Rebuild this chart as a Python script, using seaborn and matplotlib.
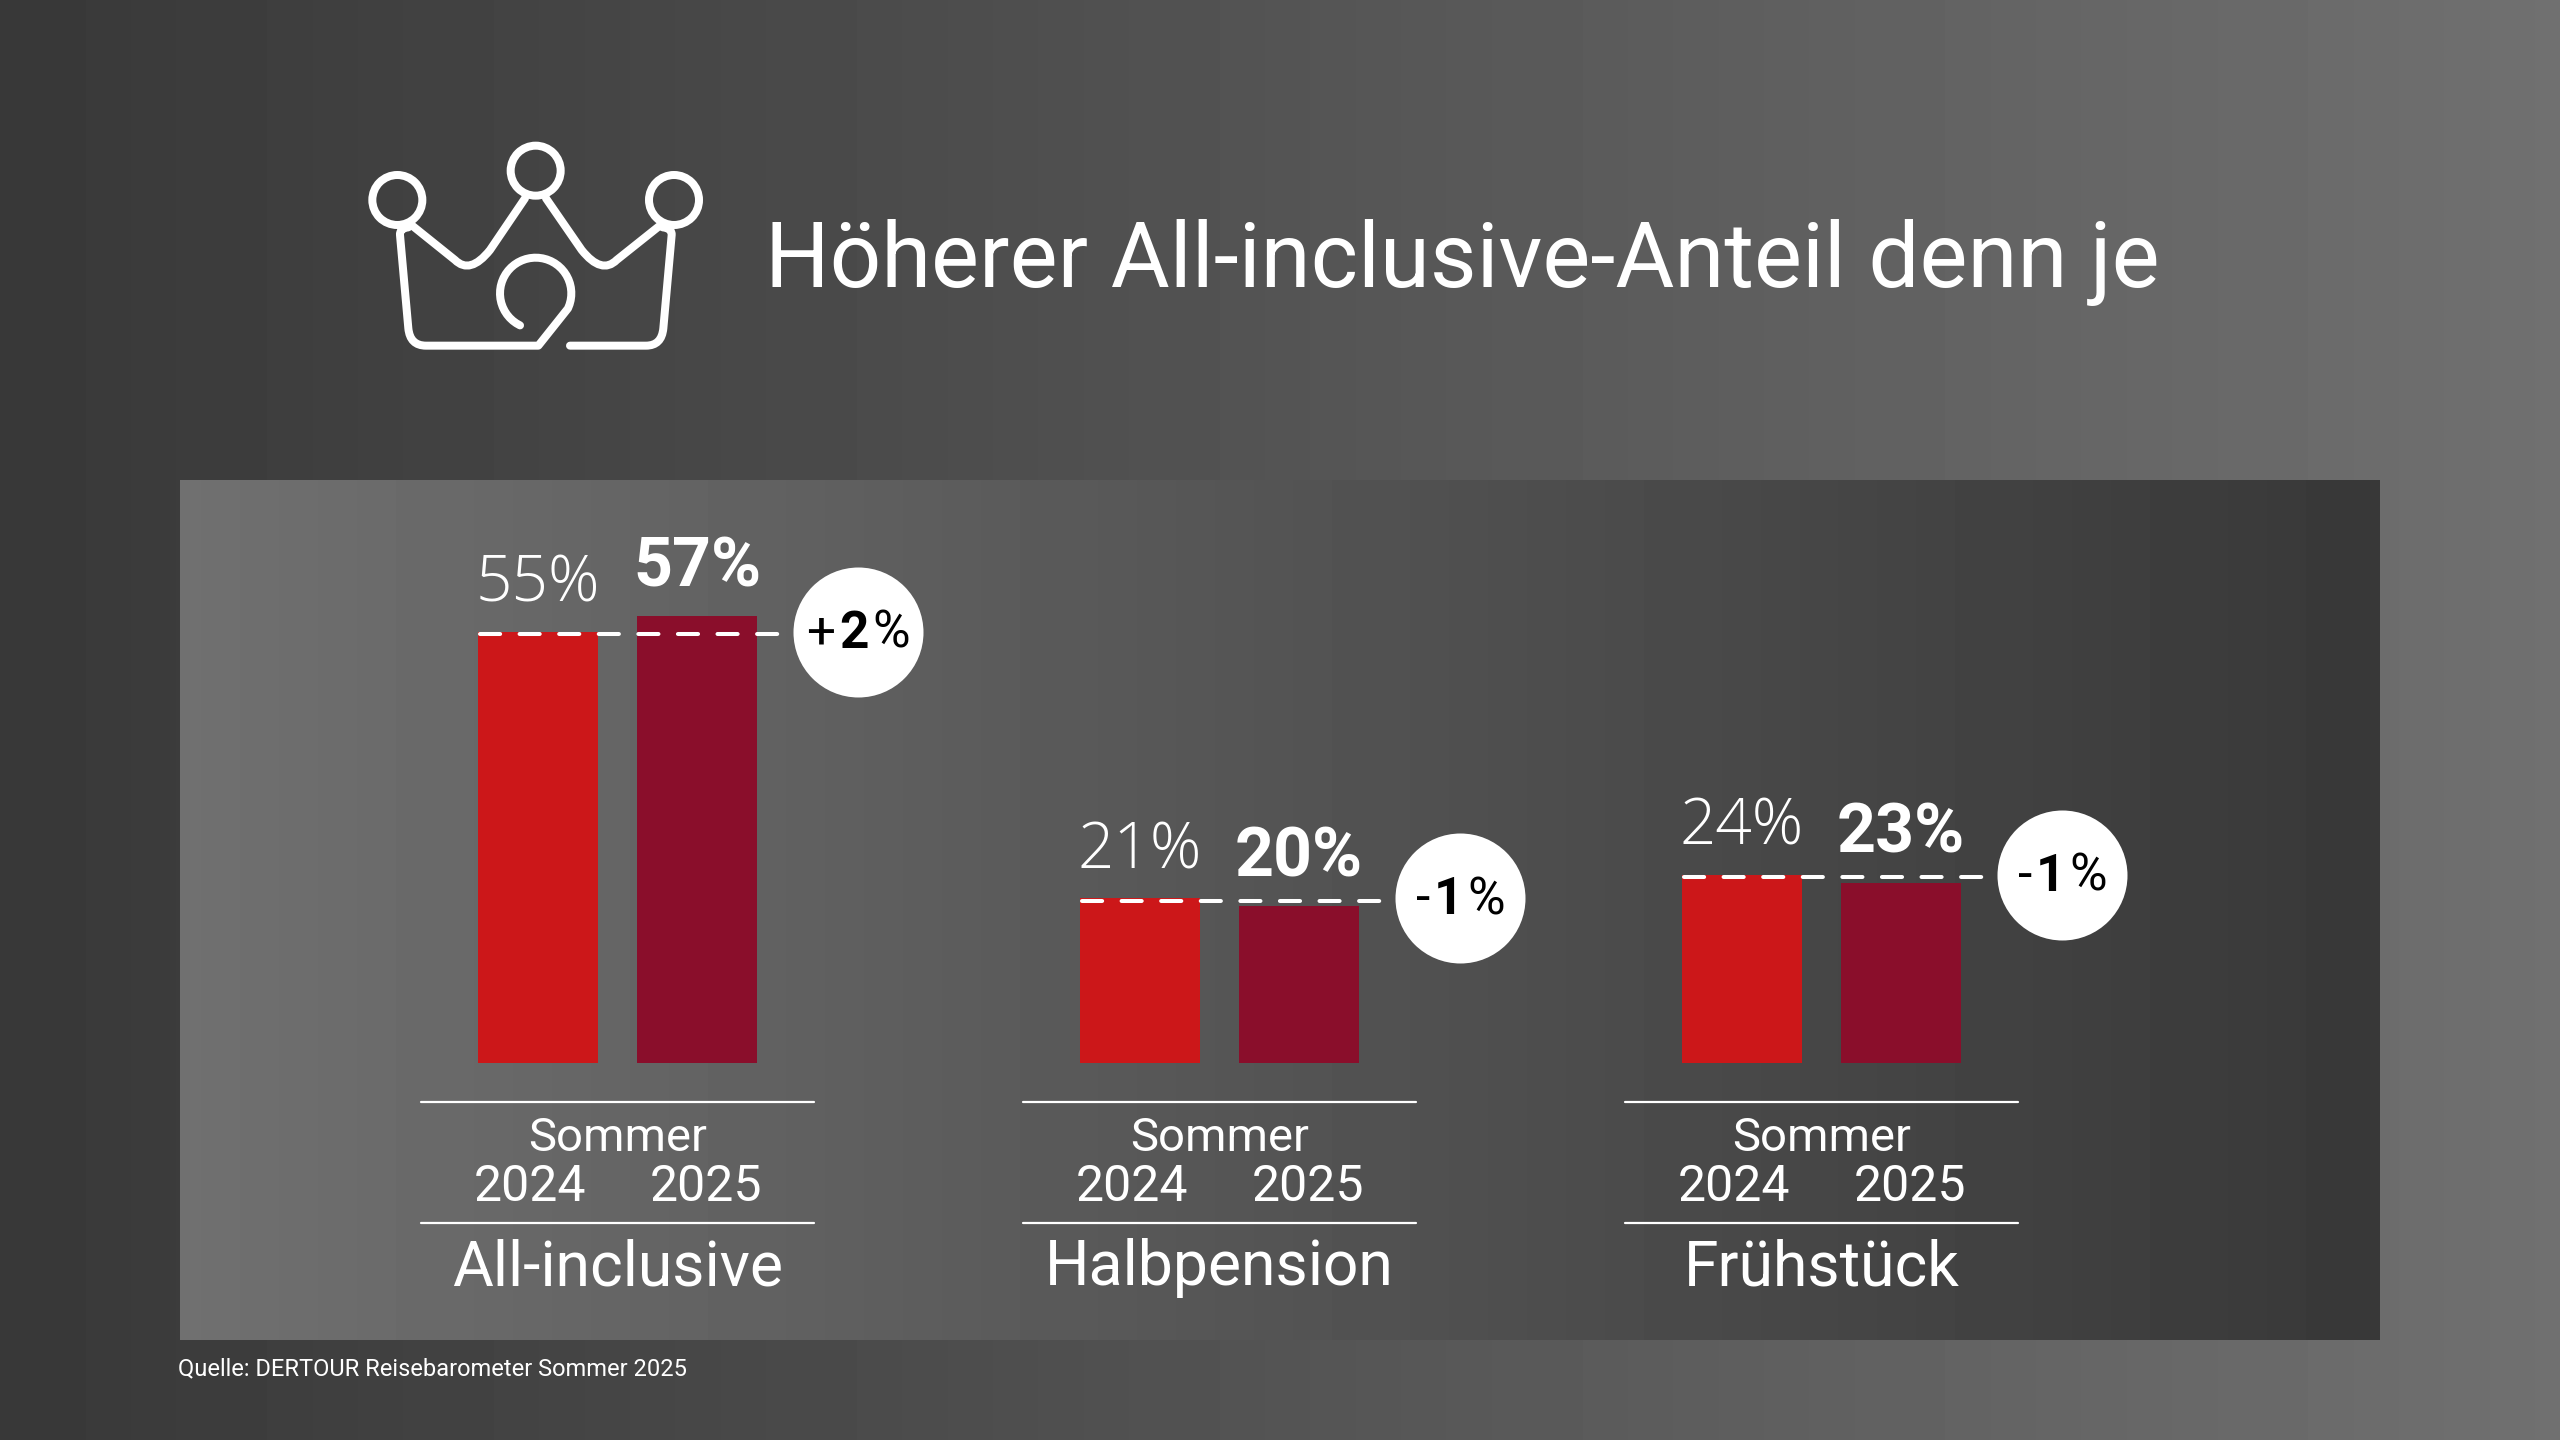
import numpy as np
import pandas as pd
import matplotlib
matplotlib.use("Agg")
import matplotlib.pyplot as plt
import seaborn as sns
from matplotlib.path import Path
from matplotlib.patches import PathPatch, Circle
from matplotlib.transforms import Affine2D

title = "Höherer All-inclusive-Anteil denn je"
source = "Quelle: DERTOUR Reisebarometer Sommer 2025"
categories = ["All-inclusive", "Halbpension", "Frühstück"]
years = ["2024", "2025"]
values_2024 = [55, 21, 24]
values_2025 = [57, 20, 23]
changes = [("+", "2", "%"), ("-", "1", "%"), ("-", "1", "%")]
season = "Sommer"
colors = {"2024": "#CC1719", "2025": "#8A0E2B"}

sns.set_theme(style="white")
plt.rcParams["font.family"] = ["Roboto", "DejaVu Sans"]
plt.rcParams["lines.scale_dashes"] = False

W, H = 2560, 1440
fig = plt.figure(figsize=(25.6, 14.4), dpi=100)

# background gradients
bg = fig.add_axes([0, 0, 1, 1], zorder=0)
bg.set_xlim(0, W); bg.set_ylim(H, 0); bg.axis("off")
g = np.linspace(0x38, 0x70, 256)[None, :]
bg.imshow(g, extent=[0, W, H, 0], cmap="gray", vmin=0, vmax=255, aspect="auto", interpolation="bilinear")
bg.imshow(g[:, ::-1], extent=[179.5, 2379, 1340, 480], cmap="gray", vmin=0, vmax=255, aspect="auto", interpolation="bilinear")
bg.set_xlim(0, W); bg.set_ylim(H, 0)

# bars
step, x0, unit, y0 = 602.0, 617.6, 7.84, 1063.0
ax = fig.add_axes([0, 0, 1, 1], zorder=1)
ax.patch.set_alpha(0)
df = pd.DataFrame({
    "Kategorie": categories * 2,
    "Jahr": [years[0]] * 3 + [years[1]] * 3,
    "Anteil": values_2024 + values_2025,
})
sns.barplot(data=df, x="Kategorie", y="Anteil", hue="Jahr", palette=colors, order=categories,
            hue_order=years, width=2 * 159 / step, gap=1 - 120 / 159, saturation=1,
            legend=False, linewidth=0, edgecolor="none", ax=ax)
ax.set_xlim(-x0 / step, (W - x0) / step)
ax.set_ylim(-(H - y0) / unit, y0 / unit)
ax.axis("off")

px = Affine2D().scale(1, -1).translate(0, H)  # pixel coordinates, origin top-left

# value labels
styles = [dict(fontweight="light", family=["Open Sans", "DejaVu Sans"], fontsize=46),
          dict(fontweight="bold", fontsize=49)]
for container, vals, st in zip(ax.containers, [values_2024, values_2025], styles):
    for bar, v in zip(container, vals):
        ax.annotate(f"{v}%", (bar.get_x() + bar.get_width() / 2, v), xytext=(0, 21.5),
                    textcoords="offset points", ha="center", va="baseline",
                    color="white", **st)

renderer = fig.canvas.get_renderer()
for i, (cat, v, parts) in enumerate(zip(categories, values_2024, changes)):
    # dashed reference line and change bubble
    dash_y = v - 2.2 / unit
    ax.plot([i - 137.6 / step, i + 163 / step], [dash_y, dash_y], color="white", lw=2.9,
            linestyle=(0, (14.5, 14)), dash_capstyle="round", zorder=5)
    cx = i + 240.6 / step
    ax.scatter([cx], [v], s=93.6 ** 2, color="white", linewidths=0, zorder=6)
    wts = ["normal", "bold", "normal"]
    ts = [ax.annotate(p, (cx, v), xytext=(0, -11.5), textcoords="offset points", ha="left", va="baseline",
                      color="black", fontsize=37, fontweight=w, zorder=7) for p, w in zip(parts, wts)]
    widths = [t.get_window_extent(renderer).width for t in ts]
    gap = 4
    total = sum(widths) + gap * 2
    cur = -total / 2
    for t, wd in zip(ts, widths):
        t.set_position((cur * 0.72, -11.5))
        cur += wd + gap

    # group labels and rules
    c = x0 + i * step
    for y in (1102, 1223):
        ax.plot([c - 196.5, c + 196.5], [y, y], color="white", lw=1.6, transform=px, zorder=3)
    ax.text(c, 1138, season, transform=px, ha="center", va="center", color="white", fontsize=34)
    ax.text(c - 88, 1187, years[0], transform=px, ha="center", va="center", color="white", fontsize=36)
    ax.text(c + 88, 1187, years[1], transform=px, ha="center", va="center", color="white", fontsize=36)
    ax.text(c, 1268, cat, transform=px, ha="center", va="center", color="white", fontsize=45)

ax.text(765, 262, title, transform=px, ha="left", va="center", color="white", fontsize=65.2)
ax.text(178.5, 1369, source, transform=px, ha="left", va="center", color="white", fontsize=17)

# crown icon (coordinates relative to its own box)
crown = Affine2D().scale(1 / 3).translate(340, 120) + px
style = dict(fc="none", ec="white", lw=5.76, transform=crown, capstyle="round", joinstyle="round", zorder=5)
for c_xy in [(172, 240), (587, 152), (1002, 240)]:
    ax.add_patch(Circle(c_xy, 75, **style))
C3, L, M = Path.CURVE3, Path.LINETO, Path.MOVETO
top = [(218, 318), (345, 420), (390, 465), (450, 390), (555, 235),
       (618, 235), (725, 390), (785, 465), (830, 420), (958, 318)]
top_codes = [M, L, C3, C3, L, M, L, C3, C3, L]
ax.add_patch(PathPatch(Path(top, top_codes), **style))
left = [(205, 322), (178, 325), (180, 345), (205, 625), (210, 677), (258, 677), (595, 677)]
ang = np.radians(np.linspace(385, 116, 40))
arc = list(zip(587 + 107 * np.cos(ang), 520 + 107 * np.sin(ang)))
ax.add_patch(PathPatch(Path(left + arc, [M, C3, C3, L, C3, C3, L] + [L] * len(arc)), **style))
right = [(690, 677), (918, 677), (965, 677), (970, 625), (995, 345), (997, 325), (968, 322)]
ax.add_patch(PathPatch(Path(right, [M, L, C3, C3, L, C3, C3]), **style))

fig.savefig("out.png", dpi=100)
